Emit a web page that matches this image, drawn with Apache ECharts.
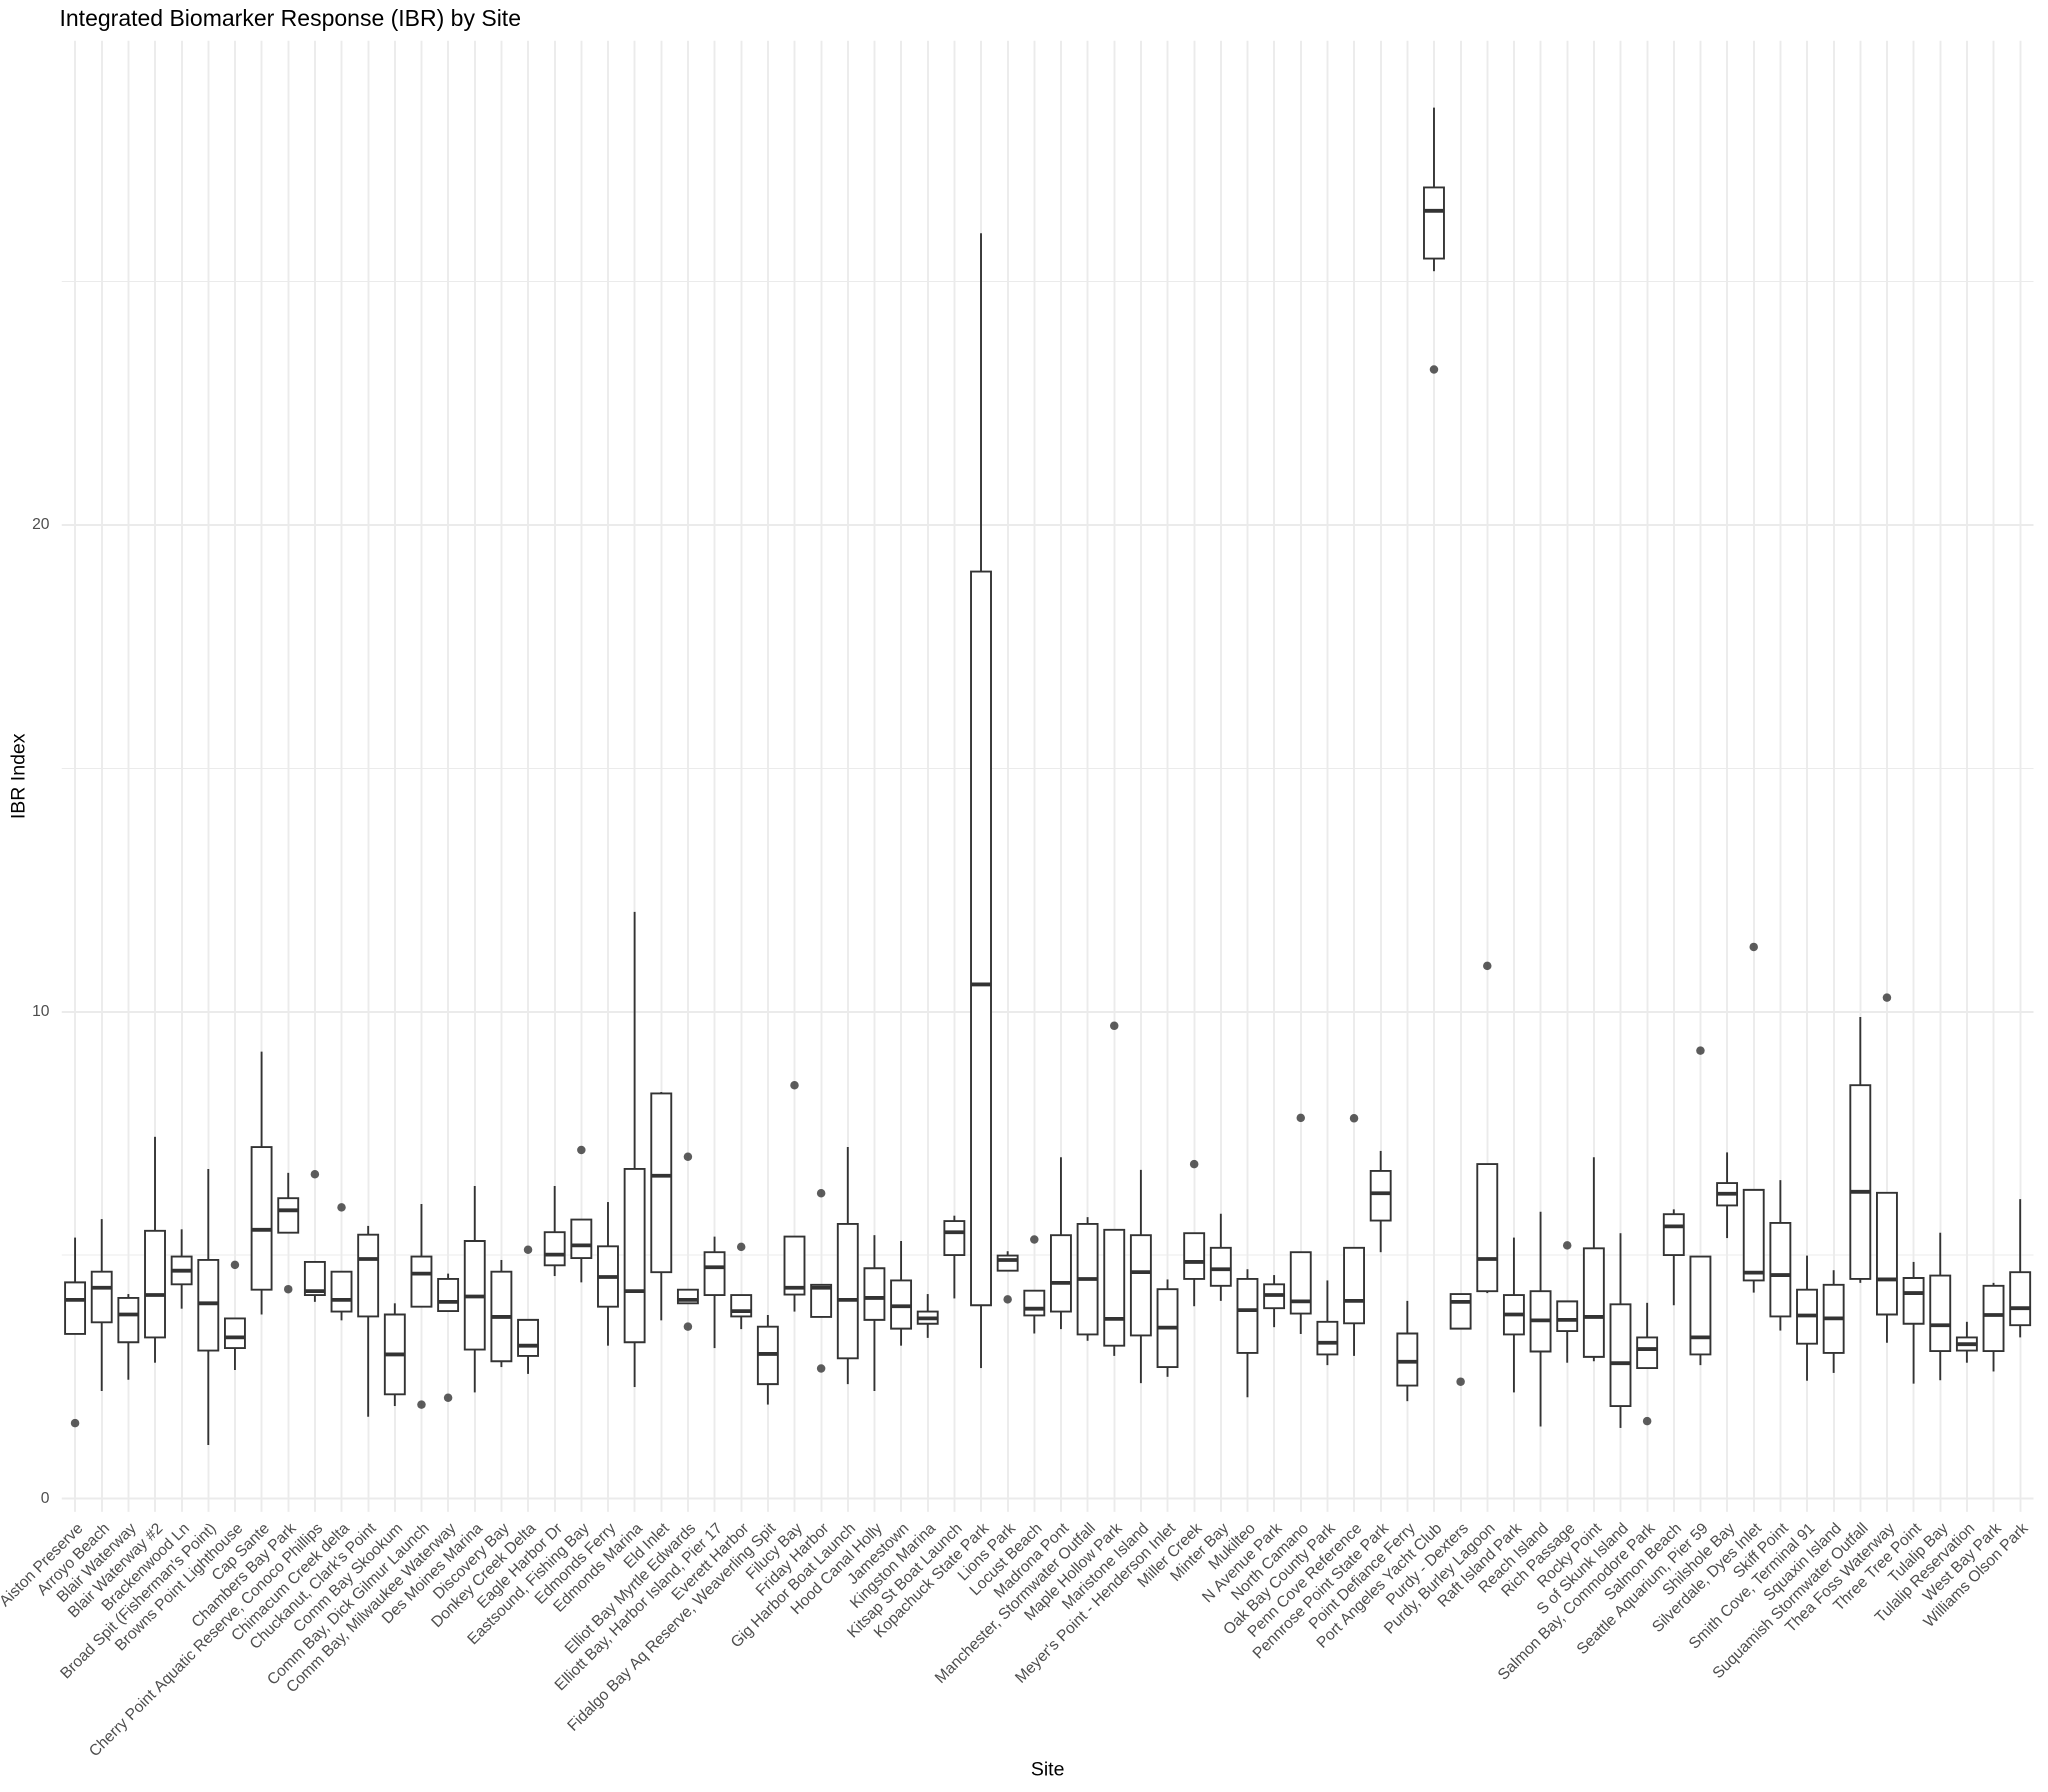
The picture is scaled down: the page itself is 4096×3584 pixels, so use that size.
<!DOCTYPE html>
<html>
<head>
<meta charset="utf-8">
<script src="https://cdn.jsdelivr.net/npm/echarts@6/dist/echarts.min.js"></script>
<style>
html,body{margin:0;padding:0;background:#ffffff;}
#chart{width:4096px;height:3584px;}
</style>
</head>
<body>
<div id="chart"></div>
<script>
// ---------- data ----------
const sites = [
  "Aiston Preserve","Arroyo Beach","Blair Waterway","Blair Waterway #2","Brackenwood Ln",
  "Broad Spit (Fisherman's Point)","Browns Point Lighthouse","Cap Sante","Chambers Bay Park",
  "Cherry Point Aquatic Reserve, Conoco Phillips","Chimacum Creek delta","Chuckanut, Clark's Point",
  "Comm Bay Skookum","Comm Bay, Dick Gilmur Launch","Comm Bay, Milwaukee Waterway","Des Moines Marina",
  "Discovery Bay","Donkey Creek Delta","Eagle Harbor Dr","Eastsound, Fishing Bay","Edmonds Ferry",
  "Edmonds Marina","Eld Inlet","Elliot Bay Myrtle Edwards","Elliott Bay, Harbor Island, Pier 17",
  "Everett Harbor","Fidalgo Bay Aq Reserve, Weaverling Spit","Filucy Bay","Friday Harbor",
  "Gig Harbor Boat Launch","Hood Canal Holly","Jamestown","Kingston Marina","Kitsap St Boat Launch",
  "Kopachuck State Park","Lions Park","Locust Beach","Madrona Pont","Manchester, Stormwater Outfall",
  "Maple Hollow Park","Maristone Island","Meyer's Point - Henderson Inlet","Miller Creek","Minter Bay",
  "Mukilteo","N Avenue Park","North Camano","Oak Bay County Park","Penn Cove Reference",
  "Pennrose Point State Park","Point Defiance Ferry","Port Angeles Yacht Club","Purdy - Dexters",
  "Purdy, Burley Lagoon","Raft Island Park","Reach Island","Rich Passage","Rocky Point",
  "S of Skunk Island","Salmon Bay, Commodore Park","Salmon Beach","Seattle Aquarium, Pier 59",
  "Shilshole Bay","Silverdale, Dyes Inlet","Skiff Point","Smith Cove, Terminal 91","Squaxin Island",
  "Suquamish Stormwater Outfall","Thea Foss Waterway","Three Tree Point","Tulalip Bay",
  "Tulalip Reservation","West Bay Park","Williams Olson Park"
];

const whiskerLow = [
  3.38,2.21,2.44,2.79,3.90,1.10,2.64,3.78,5.46,4.04,3.66,1.68,1.90,3.94,3.85,2.18,2.70,2.56,4.57,4.44,
  3.14,2.29,3.66,4.01,3.09,3.48,1.93,3.84,3.73,2.35,2.21,3.14,3.30,4.11,2.68,4.68,3.39,3.48,3.24,2.93,
  2.37,2.50,3.95,4.06,2.08,3.52,3.38,2.74,2.93,5.06,2.00,25.21,3.49,4.22,2.18,1.48,2.79,2.82,1.45,2.68,
  3.97,2.74,5.35,4.23,3.45,2.42,2.58,4.43,3.20,2.36,2.43,2.79,2.61,3.31
];
const q1 = [
  3.38,3.62,3.21,3.31,4.40,3.04,3.09,4.29,5.46,4.18,3.84,3.74,2.14,3.94,3.85,3.06,2.82,2.93,4.79,4.94,
  3.94,3.21,4.65,4.01,4.18,3.74,2.35,4.19,3.73,2.88,3.67,3.49,3.59,5.00,3.97,4.68,3.76,3.84,3.37,3.14,
  3.35,2.70,4.51,4.37,2.99,3.91,3.80,2.96,3.60,5.71,2.32,25.47,3.49,4.26,3.37,3.02,3.44,2.91,1.90,2.68,
  5.00,2.96,6.02,4.48,3.74,3.18,2.99,4.51,3.78,3.59,3.03,3.04,3.03,3.56
];
const median = [
  4.08,4.33,3.78,4.18,4.68,4.01,3.31,5.52,5.92,4.26,4.08,4.92,2.96,4.62,4.04,4.15,3.73,3.14,5.01,5.20,
  4.55,4.26,6.63,4.08,4.75,3.85,2.97,4.33,4.33,4.08,4.12,3.95,3.70,5.47,10.56,4.90,3.90,4.43,4.51,3.69,
  4.65,3.51,4.86,4.71,3.87,4.18,4.05,3.20,4.06,6.27,2.81,26.45,4.04,4.92,3.78,3.66,3.67,3.73,2.78,3.07,
  5.59,3.31,6.26,4.64,4.59,3.76,3.70,6.30,4.50,4.22,3.56,3.17,3.77,3.91
];
const q3 = [
  4.44,4.66,4.12,5.50,4.97,4.90,3.70,7.22,6.17,4.86,4.66,5.42,3.78,4.97,4.51,5.29,4.66,3.67,5.47,5.73,
  5.18,6.77,8.32,4.29,5.06,4.18,3.53,5.38,4.39,5.64,4.73,4.48,3.84,5.70,19.04,4.99,4.27,5.41,5.64,5.52,
  5.41,4.30,5.45,5.15,4.51,4.40,5.06,3.63,5.15,6.73,3.39,26.93,4.20,6.87,4.18,4.26,4.05,5.14,3.99,3.31,
  5.84,4.97,6.48,6.34,5.66,4.29,4.39,8.49,6.28,4.53,4.58,3.31,4.37,4.65
];
const whiskerHigh = [
  5.36,5.74,4.20,7.43,5.53,6.77,3.70,9.18,6.69,4.86,4.66,5.60,4.01,6.05,4.62,6.42,4.90,3.67,6.42,5.73,
  6.09,12.05,8.35,4.29,5.38,4.18,3.77,5.38,4.39,7.22,5.41,5.29,4.20,5.81,25.99,5.08,4.27,7.01,5.78,5.52,
  6.75,4.50,5.45,5.85,4.71,4.59,5.06,4.48,5.15,7.14,4.06,28.57,4.20,6.87,5.36,5.89,4.05,7.01,5.45,4.02,
  5.94,4.97,7.11,6.34,6.54,4.99,4.69,9.89,6.28,4.86,5.46,3.63,4.43,6.15
];

const outlierSite = [
  "Aiston Preserve","Browns Point Lighthouse","Chambers Bay Park",
  "Cherry Point Aquatic Reserve, Conoco Phillips","Chimacum Creek delta","Comm Bay, Dick Gilmur Launch",
  "Comm Bay, Milwaukee Waterway","Donkey Creek Delta","Eastsound, Fishing Bay","Elliot Bay Myrtle Edwards",
  "Elliot Bay Myrtle Edwards","Everett Harbor","Filucy Bay","Friday Harbor","Friday Harbor","Lions Park",
  "Locust Beach","Maple Hollow Park","Miller Creek","North Camano","Penn Cove Reference",
  "Port Angeles Yacht Club","Purdy - Dexters","Purdy, Burley Lagoon","Rich Passage",
  "Salmon Bay, Commodore Park","Seattle Aquarium, Pier 59","Silverdale, Dyes Inlet","Thea Foss Waterway"
];
const outlierValue = [
  1.55,4.80,4.30,6.66,5.98,1.93,2.07,5.11,7.16,7.02,3.53,5.17,8.49,6.27,2.67,4.09,
  5.32,9.71,6.87,7.82,7.81,23.19,2.40,10.94,5.20,1.59,9.20,11.33,10.29
];

const yMajorTicks = [0, 10, 20];
const yMinorTicks = [5, 15, 25];

// ---------- chart ----------
const FONT = "'Liberation Sans', Arial, Helvetica, sans-serif";
const INK = '#333333';
const GRIDC = '#EBEBEB';

const allVals = whiskerLow.concat(whiskerHigh, outlierValue);
const dMin = Math.min.apply(null, allVals);
const dMax = Math.max.apply(null, allVals);
const padY = (dMax - dMin) * 0.05;
const yMin = dMin - padY;
const yMax = dMax + padY;

const boxData = sites.map((s, i) => [i, whiskerLow[i], q1[i], median[i], q3[i], whiskerHigh[i]]);
const outlierData = outlierSite.map((s, k) => [s, outlierValue[k]]);

const gridLines = []
  .concat(sites.map(s => ({ xAxis: s, lineStyle: { width: 3.8 } })))
  .concat(yMinorTicks.map(v => ({ yAxis: v, lineStyle: { width: 1.9 } })))
  .concat(yMajorTicks.map(v => ({ yAxis: v, lineStyle: { width: 3.8 } })));

const chart = echarts.init(document.getElementById('chart'), null, { renderer: 'canvas' });

chart.setOption({
  animation: false,
  backgroundColor: '#ffffff',
  title: {
    text: 'Integrated Biomarker Response (IBR) by Site',
    left: 119,
    top: 16,
    padding: 0,
    textStyle: { fontFamily: FONT, fontSize: 46, fontWeight: 'normal', color: '#000000' }
  },
  grid: {
    left: 123.5,
    top: 81.5,
    width: 3943.5,
    height: 2942.2,
    containLabel: false,
    outerBoundsMode: 'none'
  },
  xAxis: {
    type: 'category',
    data: sites,
    boundaryGap: true,
    axisLine: { show: false },
    axisTick: { show: false },
    splitLine: { show: false },
    axisLabel: {
      interval: 0,
      rotate: 45,
      align: 'right',
      verticalAlign: 'top',
      margin: 17.6,
      fontFamily: FONT,
      fontSize: 31.3,
      color: '#4D4D4D'
    },
    name: 'Site',
    nameLocation: 'middle',
    nameGap: 497,
    nameMoveOverlap: false,
    nameTextStyle: { fontFamily: FONT, fontSize: 39, color: '#000000' }
  },
  yAxis: {
    type: 'value',
    min: yMin,
    max: yMax,
    axisLine: { show: false },
    axisTick: { show: false },
    splitLine: { show: false },
    axisLabel: {
      customValues: yMajorTicks,
      margin: 24.5,
      fontFamily: FONT,
      fontSize: 31.3,
      color: '#4D4D4D'
    },
    name: 'IBR Index',
    nameLocation: 'middle',
    nameGap: 66,
    nameRotate: 90,
    nameMoveOverlap: false,
    nameTextStyle: { fontFamily: FONT, fontSize: 39, color: '#000000' }
  },
  series: [
    {
      name: 'grid',
      type: 'scatter',
      data: [],
      z: 0,
      silent: true,
      markLine: {
        silent: true,
        z: 0,
        animation: false,
        symbol: ['none', 'none'],
        label: { show: false },
        emphasis: { disabled: true },
        lineStyle: { color: GRIDC, type: 'solid', width: 3.8 },
        data: gridLines
      }
    },
    {
      name: 'IBR',
      type: 'custom',
      z: 2,
      silent: true,
      data: boxData,
      encode: { x: 0, y: [1, 2, 3, 4, 5] },
      renderItem: function (params, api) {
        const x = api.value(0);
        const pLow = api.coord([x, api.value(1)]);
        const pQ1 = api.coord([x, api.value(2)]);
        const pMed = api.coord([x, api.value(3)]);
        const pQ3 = api.coord([x, api.value(4)]);
        const pHigh = api.coord([x, api.value(5)]);
        const bw = api.size([1, 0])[0] * 0.75;
        const cx = pMed[0];
        const lw = 3.8;
        return {
          type: 'group',
          children: [
            { type: 'line', shape: { x1: cx, y1: pQ3[1], x2: cx, y2: pHigh[1] },
              style: { stroke: INK, lineWidth: lw, fill: null } },
            { type: 'line', shape: { x1: cx, y1: pQ1[1], x2: cx, y2: pLow[1] },
              style: { stroke: INK, lineWidth: lw, fill: null } },
            { type: 'rect', shape: { x: cx - bw / 2, y: pQ3[1], width: bw, height: pQ1[1] - pQ3[1] },
              style: { fill: '#ffffff', stroke: INK, lineWidth: lw } },
            { type: 'line', shape: { x1: cx - bw / 2, y1: pMed[1], x2: cx + bw / 2, y2: pMed[1] },
              style: { stroke: INK, lineWidth: 7.6, fill: null } }
          ]
        };
      }
    },
    {
      name: 'Outliers',
      type: 'scatter',
      z: 3,
      silent: true,
      symbol: 'circle',
      symbolSize: 17,
      itemStyle: { color: INK },
      data: outlierData
    }
  ]
});
</script>
</body>
</html>
